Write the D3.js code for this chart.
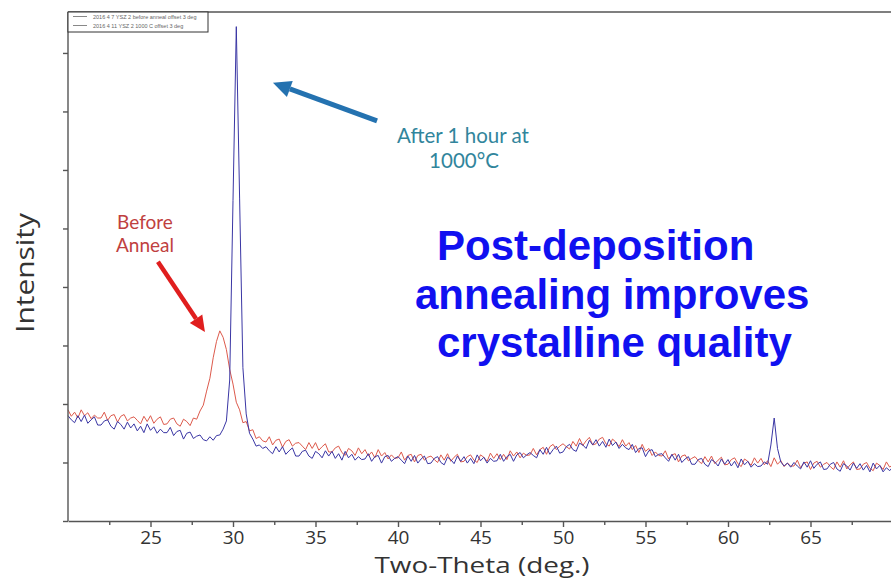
<!DOCTYPE html>
<html>
<head>
<meta charset="utf-8">
<script src="https://cdn.jsdelivr.net/npm/d3@7"></script>
<style>
  body { margin: 0; background: #fff; }
  svg { display: block; }
</style>
</head>
<body>
<svg id="chart"></svg>
<script>
// 2-theta sampling grid of the scans (20 to 70 deg, 0.2 deg step)
const twoTheta = d3.range(251).map(i => +(20 + i * 0.2).toFixed(1));

// Intensity, arbitrary counts, one row = 2 deg
const beforeAnneal = [
  190,179,186,176,190,180,185,175,181,176,
  176,186,172,180,182,169,179,182,171,176,
  178,172,166,179,170,180,167,174,178,165,
  166,174,176,166,162,174,170,163,176,174,
  188,198,222,244,279,307,325,314,293,259,
  234,203,190,168,170,154,156,141,144,137,
  135,144,130,138,140,126,136,139,128,133,
  134,128,122,134,124,134,121,127,132,118,
  118,125,128,117,112,124,120,112,125,115,
  122,111,118,108,122,111,117,106,113,107,
  108,118,104,112,114,101,112,114,104,109,
  111,105,100,113,104,115,102,109,114,101,
  102,110,113,104,100,113,109,102,116,107,
  115,105,114,105,120,111,118,108,116,112,
  113,124,113,122,126,114,127,131,122,128,
  132,127,123,136,128,141,129,137,143,130,
  132,140,143,132,128,140,135,127,139,128,
  134,122,129,117,131,119,124,112,118,112,
  111,120,106,113,115,101,111,113,103,107,
  110,103,98,110,101,111,98,104,109,96,
  97,105,108,98,93,106,102,95,108,99,
  107,96,103,93,108,97,103,93,99,94,
  94,104,91,99,101,88,99,102,92,97,
  100,93,88,101,92,103,89,96,101,88,
  89,97,100,90,86,99,95,88,101,92,
  97
];

const after1000C = [
  180,173,168,180,170,181,167,173,178,164,
  164,171,173,162,157,170,165,157,169,159,
  166,154,162,151,166,155,161,150,157,151,
  151,160,146,153,155,140,150,152,141,145,
  147,139,137,144,138,146,147,157,171,241,
  548,845,552,262,183,150,140,128,130,124,
  127,120,115,127,118,127,114,120,125,111,
  111,119,121,111,107,119,115,108,120,111,
  119,107,115,104,119,108,114,104,110,105,
  106,115,102,110,112,99,110,112,102,107,
  110,104,98,111,102,112,99,106,111,98,
  99,107,110,100,96,109,105,98,111,102,
  110,99,107,98,113,103,109,99,107,102,
  103,114,102,110,114,102,113,117,108,113,
  117,112,108,122,114,126,114,122,128,116,
  118,127,131,122,119,133,130,124,138,130,
  139,128,136,126,140,129,135,124,131,125,
  122,131,117,124,125,110,120,122,110,114,
  115,108,102,114,104,114,100,106,110,97,
  97,105,107,97,93,105,101,94,106,97,
  105,94,102,91,106,96,102,92,98,93,
  94,101,97,130,176,124,101,94,99,92,
  100,94,89,101,92,103,90,97,101,88,
  89,97,100,89,85,98,94,87,99,90,
  98,87,95,84,99,89,95,84,91,86,
  93
];

const xMajorTicks = [25, 30, 35, 40, 45, 50, 55, 60, 65];
const xMinorTicks = [22.5, 27.5, 32.5, 37.5, 42.5, 47.5, 52.5, 57.5, 62.5, 67.5];
const yTicks = [0, 100, 200, 300, 400, 500, 600, 700, 800];

const legendLabels = [
  '2016 4 7 YSZ 2 before anneal offset 3 deg',
  '2016 4 11 YSZ 2 1000 C offset 3 deg'
];

const width = 891;
const height = 579;
const margin = { top: 12, right: -2, bottom: 58, left: 68 };

const svg = d3.select('#chart')
  .attr('width', width)
  .attr('height', height)
  .attr('viewBox', `0 0 ${width} ${height}`);

const x = d3.scaleLinear()
  .domain([20, 70])
  .range([margin.left, width - margin.right]);

const y = d3.scaleLinear()
  .domain([0, 870])
  .range([height - margin.bottom, margin.top]);

const axisColor = '#555';
const labelFont = '"Open Sans", Lato, sans-serif';
const noteFont = 'Lato, "Open Sans", sans-serif';

// series
const line = d3.line()
  .x((d, i) => x(twoTheta[i]))
  .y(d => y(d));

svg.append('path')
  .datum(beforeAnneal)
  .attr('fill', 'none')
  .attr('stroke', '#dd5a4c')
  .attr('stroke-width', 1)
  .attr('d', line);

svg.append('path')
  .datum(after1000C)
  .attr('fill', 'none')
  .attr('stroke', '#3a36a4')
  .attr('stroke-width', 1)
  .attr('d', line);

// axes
const xAxis = svg.append('g')
  .attr('transform', `translate(0, ${y(0)})`)
  .call(d3.axisBottom(x).tickValues(xMajorTicks).tickSize(6).tickSizeOuter(0));

svg.append('g')
  .attr('transform', `translate(0, ${y(0)})`)
  .call(d3.axisBottom(x).tickValues(xMinorTicks).tickSize(4).tickFormat('').tickSizeOuter(0))
  .select('.domain').remove();

xAxis.selectAll('text')
  .attr('y', 9)
  .attr('dy', '0.72em')
  .style('font-family', labelFont)
  .style('font-size', '19px')
  .attr('fill', '#333');

const yAxis = svg.append('g')
  .attr('transform', `translate(${margin.left}, 0)`)
  .call(d3.axisLeft(y).tickValues(yTicks).tickSize(5).tickFormat('').tickSizeOuter(0));

svg.selectAll('.domain, .tick line')
  .attr('stroke', axisColor)
  .attr('stroke-width', 1.4);

// top frame line
svg.append('line')
  .attr('x1', x(20)).attr('x2', width)
  .attr('y1', y(870)).attr('y2', y(870))
  .attr('stroke', axisColor)
  .attr('stroke-width', 1.4);

yAxis.select('.domain').attr('d', `M0,${y(0)}V${y(870)}`);

// axis titles
svg.append('text')
  .attr('transform', 'translate(482, 572.5) scale(1.24, 1)')
  .attr('text-anchor', 'middle')
  .style('font-family', labelFont)
  .style('font-size', '22.5px')
  .attr('fill', '#333')
  .text('Two-Theta (deg.)');

svg.append('text')
  .attr('transform', 'translate(34, 273) rotate(-90) scale(1.15, 1)')
  .attr('text-anchor', 'middle')
  .style('font-family', labelFont)
  .style('font-size', '26px')
  .attr('fill', '#333')
  .text('Intensity');

// legend
const legend = svg.append('g').attr('transform', `translate(${margin.left}, ${margin.top})`);
legend.append('rect')
  .attr('width', 140).attr('height', 20)
  .attr('fill', '#fff')
  .attr('stroke', '#333')
  .attr('stroke-width', 1);
legendLabels.forEach((label, i) => {
  const ly = 4.5 + i * 9;
  legend.append('line')
    .attr('x1', 5).attr('x2', 19)
    .attr('y1', ly).attr('y2', ly)
    .attr('stroke', '#888');
  legend.append('text')
    .attr('x', 25).attr('y', ly + 2)
    .style('font-family', '"Liberation Sans", Arial, sans-serif')
    .style('font-size', '5.5px')
    .attr('fill', '#666')
    .text(label);
});

// annotations
function arrow(from, to, color, w, headW, headL) {
  const x0 = x(from[0]), y0 = y(from[1]);
  const x1 = x(to[0]), y1 = y(to[1]);
  const ang = Math.atan2(y1 - y0, x1 - x0);
  const bx = x1 - headL * Math.cos(ang), by = y1 - headL * Math.sin(ang);
  const px = -Math.sin(ang) * headW / 2, py = Math.cos(ang) * headW / 2;
  svg.append('line')
    .attr('x1', x0).attr('y1', y0)
    .attr('x2', bx).attr('y2', by)
    .attr('stroke', color)
    .attr('stroke-width', w);
  svg.append('path')
    .attr('d', `M${x1},${y1}L${bx + px},${by + py}L${bx - px},${by - py}Z`)
    .attr('fill', color);
}

arrow([38.73, 684], [32.42, 749], '#2472b0', 5, 17, 18);
arrow([25.45, 443], [28.3, 323], '#e01e1e', 4.5, 15, 16);

// two-line notes
function note(lines, px, py, lineGap, size, color) {
  lines.forEach((s, i) => {
    svg.append('text')
      .attr('x', px[i])
      .attr('y', py + i * lineGap)
      .attr('text-anchor', 'middle')
      .style('font-family', noteFont).style('font-size', size + 'px')
      .attr('fill', color)
      .text(s);
  });
}

note(['After 1 hour at', '1000°C'], [463, 464], 142.5, 25, 20.5, '#31859c');
note(['Before', 'Anneal'], [145, 145], 229, 23, 19, '#bf4040');

const bigLines = [
  { text: 'Post-deposition', x: 437, y: 260 },
  { text: 'annealing improves', x: 415, y: 309 },
  { text: 'crystalline quality', x: 437, y: 357 }
];
bigLines.forEach(l => {
  svg.append('text')
    .attr('x', l.x).attr('y', l.y)
    .style('font-family', '"Liberation Sans", Arial, sans-serif')
    .style('font-size', '42px')
    .style('font-weight', 'bold')
    .attr('fill', '#1010f0')
    .text(l.text);
});
</script>
</body>
</html>
